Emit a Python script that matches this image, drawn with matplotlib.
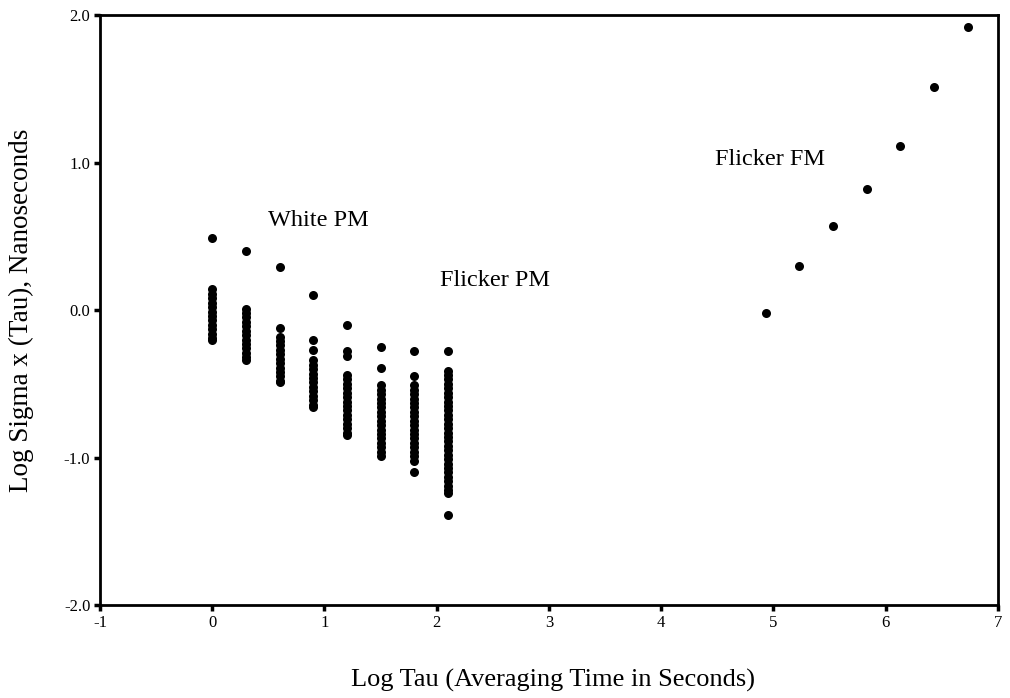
import matplotlib
matplotlib.use("Agg")
import matplotlib.pyplot as plt

plt.rc('font', family='Liberation Serif')

# log tau positions of the phase-noise columns (1, 2, 4, ... 128 s)
tau_pm = [0.0, 0.3, 0.6, 0.9, 1.2, 1.5, 1.8, 2.1]

# log sigma values (bars are many overlapping points)
sigma_pm = [
    [0.49, 0.14, 0.11, 0.08, 0.05, 0.02, -0.01, -0.04, -0.07, -0.10, -0.13, -0.16, -0.19, -0.20],
    [0.40, 0.01, -0.02, -0.05, -0.08, -0.11, -0.14, -0.17, -0.20, -0.23, -0.26, -0.29, -0.32, -0.34],
    [0.29, -0.12, -0.18, -0.21, -0.24, -0.27, -0.30, -0.33, -0.36, -0.39, -0.42, -0.45, -0.48, -0.49],
    [0.10, -0.20, -0.27, -0.34, -0.37, -0.40, -0.43, -0.46, -0.49, -0.52, -0.55, -0.58, -0.61, -0.64, -0.66],
    [-0.10, -0.28, -0.31, -0.44, -0.47, -0.50, -0.53, -0.56, -0.59, -0.62, -0.65, -0.68, -0.71, -0.74,
     -0.77, -0.80, -0.83, -0.85],
    [-0.25, -0.39, -0.51, -0.54, -0.57, -0.60, -0.63, -0.66, -0.69, -0.72, -0.75, -0.78, -0.81, -0.84,
     -0.87, -0.90, -0.93, -0.96, -0.99],
    [-0.28, -0.45, -0.51, -0.54, -0.57, -0.60, -0.63, -0.66, -0.69, -0.72, -0.75, -0.78, -0.81, -0.84,
     -0.87, -0.90, -0.93, -0.96, -0.99, -1.02, -1.10],
    [-0.28, -0.41, -0.44, -0.47, -0.50, -0.53, -0.56, -0.59, -0.62, -0.65, -0.68, -0.71, -0.74, -0.77,
     -0.80, -0.83, -0.86, -0.89, -0.92, -0.95, -0.98, -1.01, -1.04, -1.07, -1.10, -1.13, -1.16, -1.19,
     -1.22, -1.24, -1.39],
]

# flicker FM points
tau_fm = [4.93, 5.23, 5.53, 5.83, 6.13, 6.43, 6.73]
sigma_fm = [-0.02, 0.30, 0.57, 0.82, 1.11, 1.51, 1.92]

labels = [("White PM", 0.95, 0.61), ("Flicker PM", 2.52, 0.20), ("Flicker FM", 4.97, 1.02)]

fig = plt.figure(figsize=(10.1, 6.98), dpi=100)
ax = fig.add_axes([0.099, 0.133, 0.889, 0.8455])

xs, ys = [], []
for t, col in zip(tau_pm, sigma_pm):
    xs += [t] * len(col)
    ys += col
ax.plot(xs, ys, 'o', color='black', markersize=6.5, markeredgewidth=0)
ax.plot(tau_fm, sigma_fm, 'o', color='black', markersize=6.5, markeredgewidth=0)

for txt, x, y in labels:
    ax.text(x, y, txt, fontsize=17.5, ha='center', va='center')

ax.set_xlim(-1, 7)
ax.set_ylim(-2, 2)
ax.set_xticks(range(-1, 8))
ax.set_xticklabels([str(i) for i in range(-1, 8)])
ax.set_yticks([-2, -1, 0, 1, 2])
ax.set_yticklabels(["-2.0", "-1.0", "0.0", "1.0", "2.0"])
ax.tick_params(direction='out', length=4, width=2.5, labelsize=12, pad=3)

for s in ax.spines.values():
    s.set_linewidth(2)

ax.set_xlabel("Log Tau (Averaging Time in Seconds)", fontsize=19)
ax.xaxis.set_label_coords(0.505, -0.108)
ax.set_ylabel("Log Sigma x (Tau), Nanoseconds", fontsize=19.5)
ax.yaxis.set_label_coords(-0.074, 0.5)

fig.savefig("out.png", dpi=100)
